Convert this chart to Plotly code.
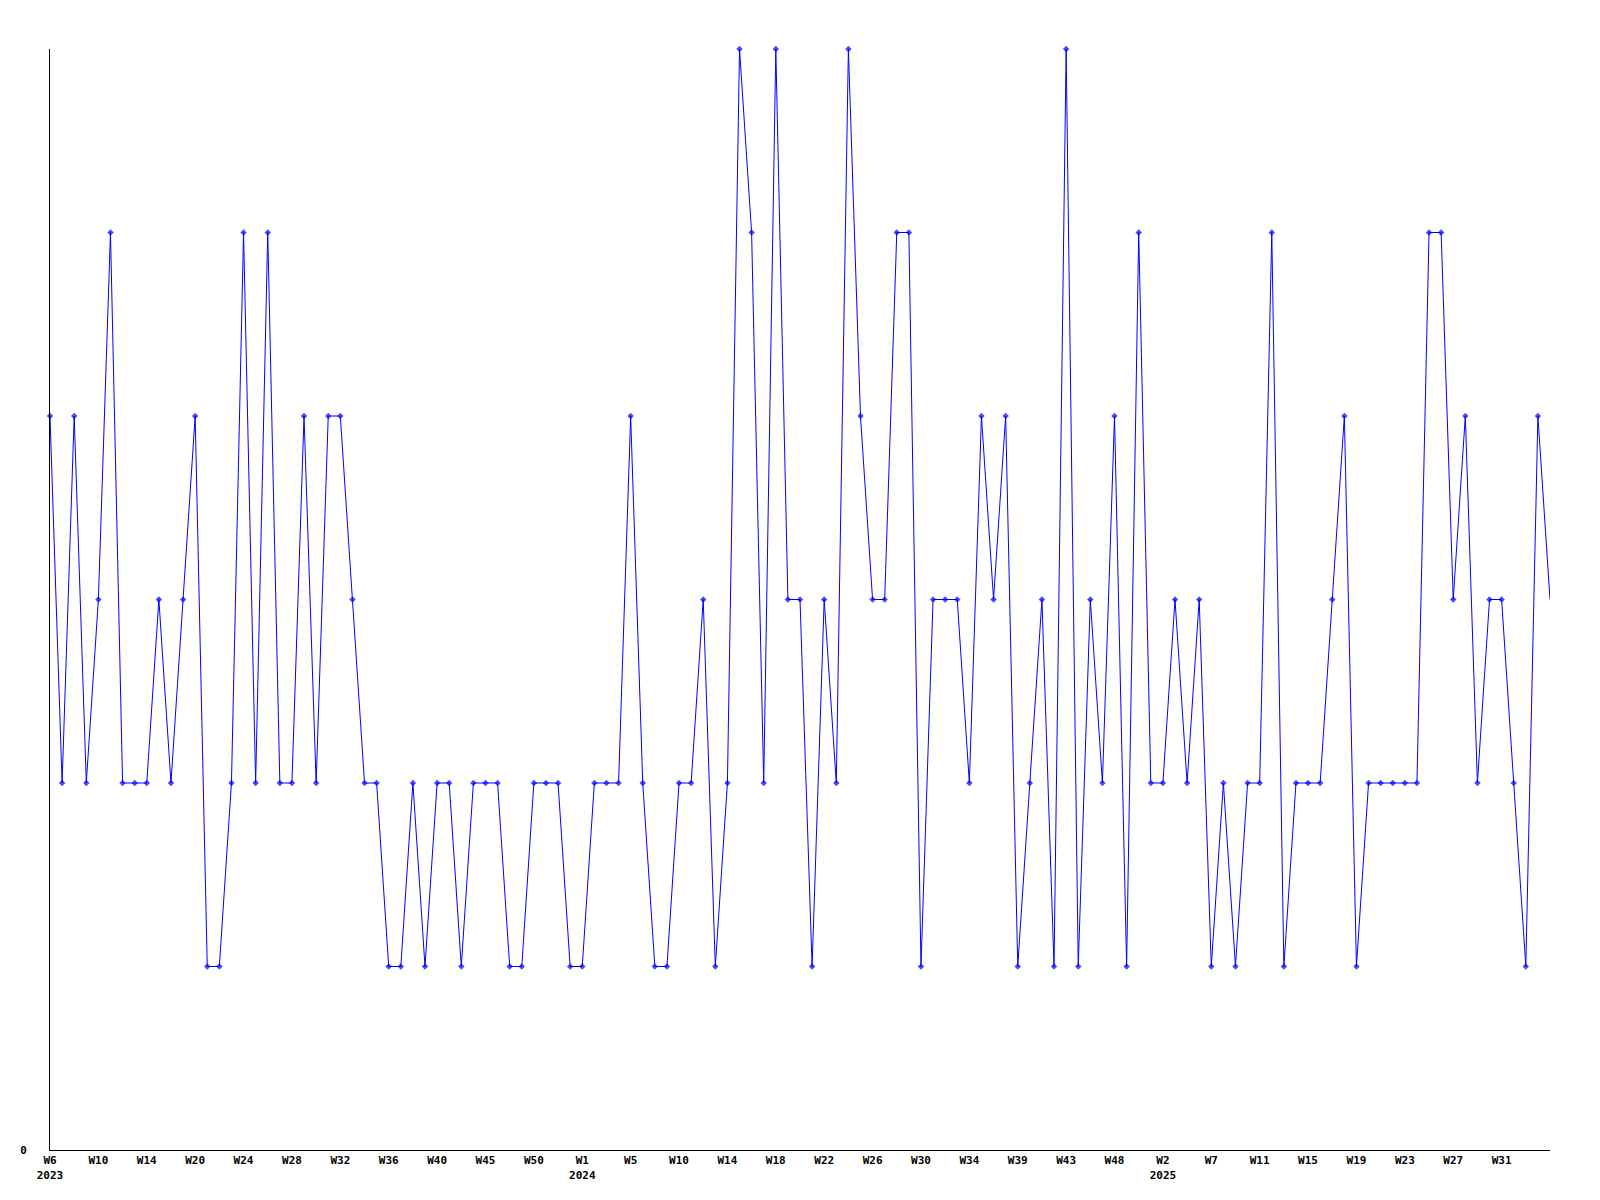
import plotly.graph_objects as go

# Series values (one per point, equally spaced along the x axis)
values = [
    4, 2, 4, 2, 3, 5, 2, 2, 2, 3,
    2, 3, 4, 1, 1, 2, 5, 2, 5, 2,
    2, 4, 2, 4, 4, 3, 2, 2, 1, 1,
    2, 1, 2, 2, 1, 2, 2, 2, 1, 1,
    2, 2, 2, 1, 1, 2, 2, 2, 4, 2,
    1, 1, 2, 2, 3, 1, 2, 6, 5, 2,
    6, 3, 3, 1, 3, 2, 6, 4, 3, 3,
    5, 5, 1, 3, 3, 3, 2, 4, 3, 4,
    1, 2, 3, 1, 6, 1, 3, 2, 4, 1,
    5, 2, 2, 3, 2, 3, 1, 2, 1, 2,
    2, 5, 1, 2, 2, 2, 3, 4, 1, 2,
    2, 2, 2, 2, 5, 5, 3, 4, 2, 3,
    3, 2, 1, 4, 3,
]

# Tick labels (one every 4th point)
week_labels = ["W6", "W10", "W14", "W20", "W24", "W28", "W32", "W36", "W40", "W45",
               "W50", "W1", "W5", "W10", "W14", "W18", "W22", "W26", "W30", "W34",
               "W39", "W43", "W48", "W2", "W7", "W11", "W15", "W19", "W23", "W27", "W31"]
year_labels = {0: "2023", 11: "2024", 23: "2025"}

y_tick_vals = [0]
y_tick_text = ["0"]

n = len(values)
x = list(range(n))
tick_step = 4
tickvals = [i * tick_step for i in range(len(week_labels))]
ticktext = [w + ("<br>" + year_labels[k] if k in year_labels else "")
            for k, w in enumerate(week_labels)]

marker_sizes = [5] * (n - 1) + [0]

fig = go.Figure()
fig.add_trace(go.Scatter(
    x=x, y=values, mode="lines+markers",
    line=dict(color="#0000FF", width=1),
    marker=dict(symbol="diamond", size=marker_sizes, color="#0000FF",
                line=dict(width=0)),
    cliponaxis=False,
    showlegend=False,
))

font = dict(family="DejaVu Sans Mono", size=11, color="black", weight="bold")

fig.update_layout(
    width=1600, height=1200,
    margin=dict(l=42, r=58, t=41, b=58),
    paper_bgcolor="white", plot_bgcolor="white",
    font=font,
    xaxis=dict(
        range=[0, n - 1], showgrid=False, zeroline=False,
        showline=True, linecolor="black", linewidth=1,
        ticks="", tickvals=tickvals, ticktext=ticktext,
        tickfont=font, tickangle=0, automargin=False,
    ),
    yaxis=dict(
        range=[0, max(values)], showgrid=False, zeroline=False,
        showline=True, linecolor="black", linewidth=1,
        ticks="", tickvals=y_tick_vals, ticktext=y_tick_text,
        tickfont=font, ticklabelstandoff=20, automargin=False,
    ),
)

fig.write_html("out.html")
